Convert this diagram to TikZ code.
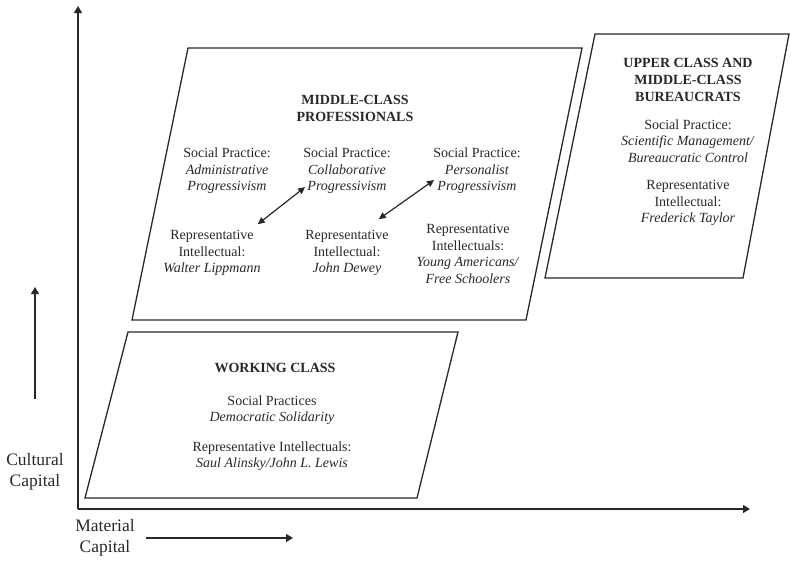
\documentclass[tikz,border=0pt]{standalone}
\usepackage{fontspec}
\setmainfont{Liberation Serif}
\usetikzlibrary{arrows.meta}
\definecolor{ink}{RGB}{40,40,40}

\begin{document}
\begin{tikzpicture}[x=1pt, y=-1pt,
    every node/.style={align=center, font=\fontsize{14}{16.5}\selectfont, text=ink, inner sep=2pt},
    ttl/.style={font=\fontsize{14}{17}\selectfont\bfseries},
    axlab/.style={font=\fontsize{17.5}{21}\selectfont},
    band/.style={draw=ink, line width=1.3pt},
    axis/.style={-{Triangle[length=7pt,width=8pt]}, draw=ink, line width=1.4pt},
    dbl/.style={{Triangle[length=7pt,width=6.5pt]}-{Triangle[length=7pt,width=6.5pt]}, draw=ink, line width=1.2pt}
  ]
    \useasboundingbox (0,0) rectangle (792,562);

    \coordinate (O)    at (78,509);
    \coordinate (ytop) at (78,6);
    \coordinate (xend) at (750,509);
    \draw[axis] (O) -- (ytop);
    \draw[axis] (O) -- (xend);

    \node[axlab] (cullab) at (35,472) {Cultural\\Capital};
    \coordinate (culend) at (35,287);
    \draw[axis] ([yshift=52pt]cullab.north) -- (culend);
    \node[axlab] (matlab) at (105,538) {Material\\Capital};
    \coordinate (matend) at (293,538);
    \draw[axis] ([xshift=9pt]matlab.east) -- (matend);

    \draw[band] (188,48) -- (582,48) -- (526,320) -- (132,320) -- cycle;
    \draw[band] (595,34) -- (789,34) -- (743,278) -- (545,278) -- cycle;
    \draw[band] (128,332) -- (458,332) -- (417,498) -- (85,498) -- cycle;

    \node[ttl] (mtitle) at (355,108) {MIDDLE-CLASS\\PROFESSIONALS};
    \node (sp1)  at (227,171) {Social Practice:\\\textit{Administrative}\\\textit{Progressivism}};
    \node (sp2)  at (347,171) {Social Practice:\\\textit{Collaborative}\\\textit{Progressivism}};
    \node (sp3)  at (477,171) {Social Practice:\\\textit{Personalist}\\\textit{Progressivism}};
    \node (rep1) at (212,253) {Representative\\Intellectual:\\\textit{Walter Lippmann}};
    \node (rep2) at (347,253) {Representative\\Intellectual:\\\textit{John Dewey}};
    \node (rep3) at (468,254) {Representative\\Intellectuals:\\\textit{Young Americans/}\\\textit{Free Schoolers}};
    \draw[dbl] ([xshift=-5pt,yshift=4pt]rep1.north east) -- ([xshift=4pt,yshift=9pt]sp2.south west);
    \draw[dbl] ([xshift=-12pt,yshift=9pt]rep2.north east) -- ([xshift=3pt,yshift=16pt]sp3.south west);

    \node[ttl] (utitle) at (688,80) {UPPER CLASS AND\\MIDDLE-CLASS\\BUREAUCRATS};
    \node (usp)  at (688,141) {Social Practice:\\\textit{Scientific Management/}\\\textit{Bureaucratic Control}};
    \node (urep) at (688,203) {Representative\\Intellectual:\\\textit{Frederick Taylor}};

    \node[ttl] (wtitle) at (275,368) {WORKING CLASS};
    \node (wsp)  at (272,410) {Social Practices\\\textit{Democratic Solidarity}};
    \node (wrep) at (272,456) {Representative Intellectuals:\\\textit{Saul Alinsky/John L. Lewis}};
\end{tikzpicture}
\end{document}
